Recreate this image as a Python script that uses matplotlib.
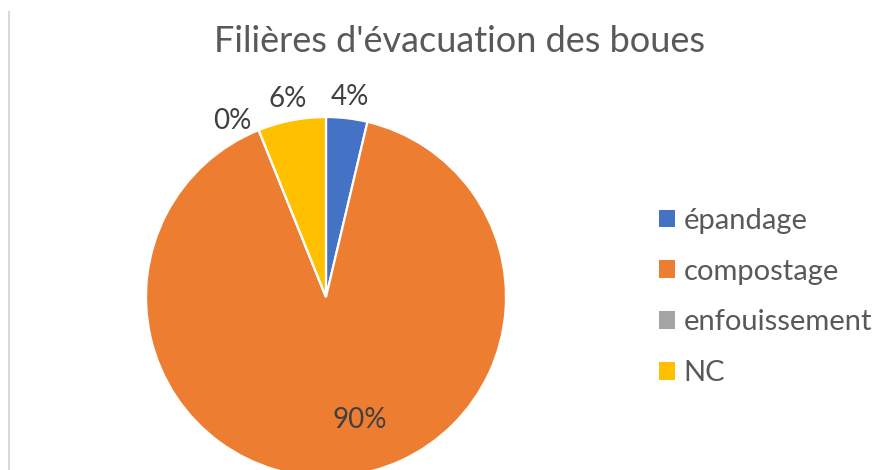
import numpy as np
import matplotlib
matplotlib.use('Agg')
import matplotlib.pyplot as plt
from matplotlib.patches import Patch
from matplotlib.lines import Line2D

plt.rcParams['font.family'] = ['Lato', 'DejaVu Sans']

# data
categories = ['épandage', 'compostage', 'enfouissement', 'NC']
shares = [3.7, 90.2, 0.0, 6.1]
colors = ['#4472C4', '#ED7D31', '#A5A5A5', '#FFC000']
title = "Filières d'évacuation des boues"

# label placement tweaks (angle offset in degrees, distance from centre in radii)
label_offset = [0, 11, 6, 0]
label_dist = [1.12, 0.71, 1.11, 1.12]

fig = plt.figure(figsize=(8.94, 4.70), dpi=100)

# pie centred at (326, 297) px, radius 180 px
ax = fig.add_axes([(326 - 180) / 894, (470 - 297 - 180) / 470, 360 / 894, 360 / 470])
wedges, _ = ax.pie(shares, colors=colors, startangle=90, counterclock=False,
                   wedgeprops=dict(edgecolor='white', linewidth=1.6))
ax.set_xlim(-1, 1)
ax.set_ylim(-1, 1)
ax.set_aspect('equal')
ax.axis('off')

total = sum(shares)
for i, w in enumerate(wedges):
    mid = np.deg2rad((w.theta1 + w.theta2) / 2 + label_offset[i])
    pct = round(100 * shares[i] / total)
    ax.text(label_dist[i] * np.cos(mid), label_dist[i] * np.sin(mid), f'{pct}%',
            ha='center', va='center', fontsize=20, color='#404040', clip_on=False)

fig.text(460 / 894, 1 - 41 / 470, title, ha='center', va='center', fontsize=26, color='#595959')

handles = [Patch(facecolor=c, edgecolor='none') for c in colors]
fig.legend(handles, categories, loc='center left', bbox_to_anchor=(659 / 894, 1 - 297 / 470),
           frameon=False, fontsize=21, labelcolor='#595959', handlelength=0.55, handleheight=0.55,
           handletextpad=0.3, labelspacing=0.85, borderpad=0, borderaxespad=0)

# thin grey frame line on the left edge
fig.add_artist(Line2D([9 / 894, 9 / 894], [0, 1 - 12 / 470], transform=fig.transFigure,
                      color='#D9D9D9', linewidth=1.5))

fig.savefig('out.png', dpi=100)
